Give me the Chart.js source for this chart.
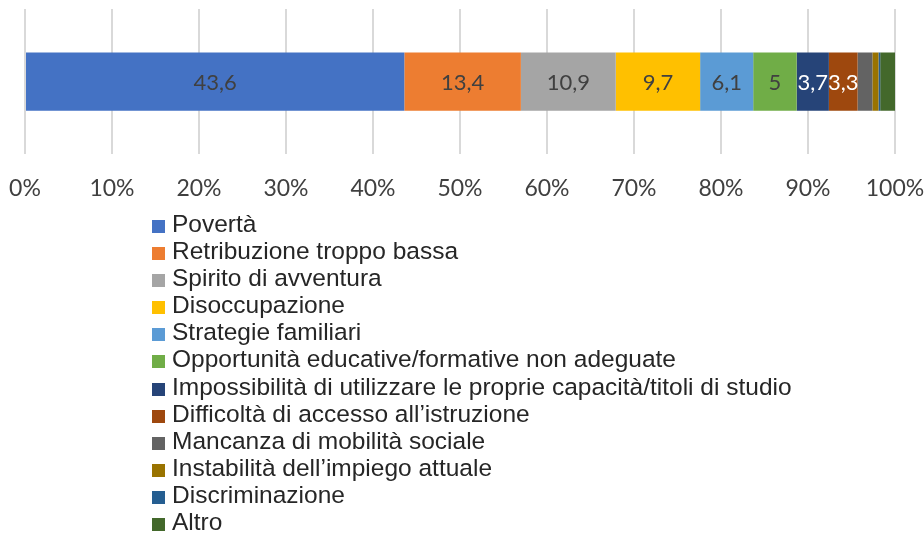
<!DOCTYPE html>
<html>
<head>
<meta charset="utf-8">
<script src="https://cdn.jsdelivr.net/npm/chart.js@4.4.1/dist/chart.umd.min.js"></script>
<style>
  html, body { margin: 0; padding: 0; background: #ffffff; }
  #wrap { position: relative; width: 924px; height: 536px; overflow: hidden; }
  #chartBox { position: absolute; left: 0; top: 0; width: 924px; height: 222px; }
  #legend { position: absolute; left: 152px; top: 210px; font-family: "Liberation Sans", Arial, sans-serif; font-size: 24.5px; color: #262626; }
  .item { height: 27.1px; line-height: 27.1px; white-space: nowrap; }
  .box { display: inline-block; width: 13px; height: 13px; margin-right: 7px; vertical-align: -1px; }
</style>
</head>
<body>
<div id="wrap">
  <div id="chartBox"><canvas id="c" width="924" height="222"></canvas></div>
  <div id="legend"></div>
</div>
<script>
// ---- data ----
const categories = ["Motivo"];
const seriesNames = [
  "Povertà",
  "Retribuzione troppo bassa",
  "Spirito di avventura",
  "Disoccupazione",
  "Strategie familiari",
  "Opportunità educative/formative non adeguate",
  "Impossibilità di utilizzare le proprie capacità/titoli di studio",
  "Difficoltà di accesso all’istruzione",
  "Mancanza di mobilità sociale",
  "Instabilità dell’impiego attuale",
  "Discriminazione",
  "Altro"
];
const seriesValues = [43.6, 13.4, 10.9, 9.7, 6.1, 5, 3.7, 3.3, 1.7, 0.7, 0.2, 1.7];
const tickLabels = ["0%", "10%", "20%", "30%", "40%", "50%", "60%", "70%", "80%", "90%", "100%"];

// ---- styles ----
const seriesColors = ["#4472C4", "#ED7D31", "#A5A5A5", "#FFC000", "#5B9BD5", "#70AD47",
                      "#264478", "#9E480E", "#636363", "#997300", "#255E91", "#43682B"];
const labelColors = ["#404040", "#404040", "#404040", "#404040", "#404040", "#404040",
                     "#ffffff", "#ffffff", null, null, null, null];

const datasets = seriesNames.map((name, i) => ({
  label: name,
  data: [seriesValues[i]],
  backgroundColor: seriesColors[i],
  borderWidth: 0,
  categoryPercentage: 0.4,
  barPercentage: 1.0
}));

const labelPlugin = {
  id: 'barLabels',
  afterDatasetsDraw(chart) {
    const ctx = chart.ctx;
    ctx.save();
    ctx.font = '22px Lato, "Open Sans", sans-serif';
    ctx.textAlign = 'center';
    ctx.textBaseline = 'middle';
    chart.data.datasets.forEach((ds, i) => {
      if (!labelColors[i]) return;
      const meta = chart.getDatasetMeta(i);
      meta.data.forEach((bar, j) => {
        const v = ds.data[j];
        const txt = String(v).replace('.', ',');
        const cx = (bar.x + bar.base) / 2;
        ctx.fillStyle = labelColors[i];
        ctx.fillText(txt, cx, bar.y + 1);
      });
    });
    ctx.restore();
  }
};

const chart = new Chart(document.getElementById('c'), {
  type: 'bar',
  data: { labels: categories, datasets: datasets },
  options: {
    indexAxis: 'y',
    responsive: false,
    animation: false,
    layout: { padding: { left: 25, right: 29, top: 9, bottom: 0 } },
    plugins: {
      legend: { display: false },
      tooltip: { enabled: false }
    },
    scales: {
      x: {
        stacked: true,
        min: 0,
        max: 100,
        border: { display: false },
        grid: { color: '#d9d9d9', lineWidth: 2, drawTicks: false },
        afterFit(scale) { scale.paddingLeft = 0; scale.paddingRight = 0; },
        ticks: {
          stepSize: 10,
          padding: 20,
          maxRotation: 0,
          color: '#404040',
          font: { family: 'Lato, "Open Sans", sans-serif', size: 23 },
          callback: (v, idx) => tickLabels[idx]
        }
      },
      y: {
        stacked: true,
        display: false
      }
    }
  },
  plugins: [labelPlugin]
});

// HTML legend built from the chart's datasets
const legendEl = document.getElementById('legend');
chart.data.datasets.forEach(ds => {
  const row = document.createElement('div');
  row.className = 'item';
  const box = document.createElement('span');
  box.className = 'box';
  box.style.background = ds.backgroundColor;
  row.appendChild(box);
  row.appendChild(document.createTextNode(ds.label));
  legendEl.appendChild(row);
});
</script>
</body>
</html>
